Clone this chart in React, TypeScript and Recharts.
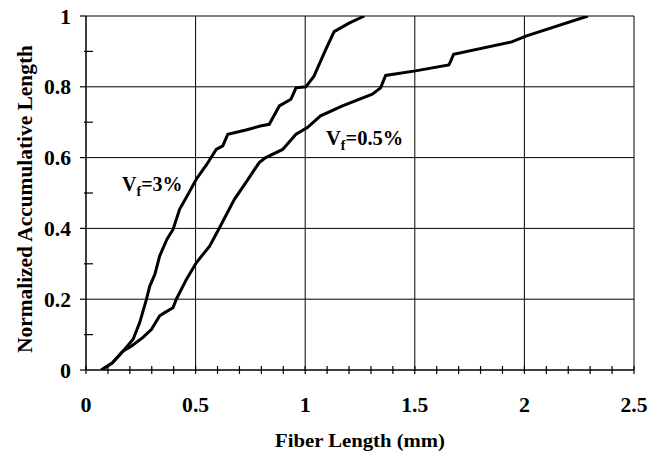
import React from "react"
import { LineChart, Line, XAxis, YAxis, CartesianGrid } from "recharts"

// Vf = 3% curve
const vf3X = [0.07, 0.12, 0.17, 0.215, 0.245, 0.276, 0.291, 0.314, 0.336, 0.37, 0.397, 0.427, 0.46, 0.503, 0.55, 0.594, 0.624, 0.647, 0.73, 0.8, 0.836, 0.882, 0.935, 0.958, 1.003, 1.04, 1.094, 1.132, 1.2, 1.27]
const vf3Y = [0, 0.02, 0.054, 0.087, 0.134, 0.2, 0.237, 0.27, 0.322, 0.37, 0.397, 0.454, 0.49, 0.539, 0.58, 0.623, 0.633, 0.666, 0.678, 0.69, 0.694, 0.746, 0.765, 0.797, 0.8, 0.83, 0.906, 0.956, 0.98, 1.0]

// Vf = 0.5% curve
const vf05X = [0.07, 0.12, 0.17, 0.208, 0.26, 0.299, 0.336, 0.359, 0.397, 0.412, 0.458, 0.503, 0.564, 0.609, 0.677, 0.73, 0.79, 0.82, 0.897, 0.958, 1.01, 1.07, 1.17, 1.306, 1.344, 1.367, 1.503, 1.655, 1.662, 1.677, 1.942, 2.01, 2.29]
const vf05Y = [0, 0.02, 0.054, 0.068, 0.092, 0.115, 0.153, 0.162, 0.176, 0.2, 0.256, 0.303, 0.35, 0.402, 0.482, 0.53, 0.586, 0.6, 0.623, 0.666, 0.685, 0.718, 0.746, 0.779, 0.797, 0.832, 0.845, 0.862, 0.87, 0.892, 0.927, 0.944, 1.0]

const xMajor = [0, 0.5, 1, 1.5, 2, 2.5]
const xMinor = [0.1, 0.2, 0.3, 0.4, 0.6, 0.7, 0.8, 0.9, 1.1, 1.2, 1.3, 1.4, 1.6, 1.7, 1.8, 1.9, 2.1, 2.2, 2.3, 2.4]
const yMajor = [0, 0.2, 0.4, 0.6, 0.8, 1]
const yMinor = [0.1, 0.3, 0.5, 0.7, 0.9]

const vf3Data = vf3X.map((x, i) => ({ x, y: vf3Y[i] }))
const vf05Data = vf05X.map((x, i) => ({ x, y: vf05Y[i] }))

const serif = "'Liberation Serif', 'Times New Roman', serif"

const isMajor = (list: number[], v: number) => list.some((m) => Math.abs(m - v) < 1e-6)

// scanned labels are a bit wider than plain Times bold
const labelWidth = (s: string) => (s.length === 1 ? 11 : 27)

function XTick(props: any) {
  const { x, y, payload } = props
  const v = payload.value
  const s = String(v)
  return (
    <g>
      <line x1={x} x2={x} y1={y - 4} y2={y + 4} stroke="#000" strokeWidth={1.2} />
      {isMajor(xMajor, v) && (
        <text
          x={x}
          y={y + 42}
          textAnchor="middle"
          fontFamily={serif}
          fontWeight="bold"
          fontSize={20}
          fill="#000"
          textLength={labelWidth(s)}
          lengthAdjust="spacingAndGlyphs"
        >
          {s}
        </text>
      )}
    </g>
  )
}

function YTick(props: any) {
  const { x, y, payload } = props
  const v = payload.value
  const s = String(v)
  const major = isMajor(yMajor, v)
  return (
    <g>
      {major ? (
        <line x1={x - 6} x2={x} y1={y} y2={y} stroke="#000" strokeWidth={1.2} />
      ) : (
        <line x1={x - 2} x2={x + 7} y1={y} y2={y} stroke="#000" strokeWidth={1.2} />
      )}
      {major && (
        <text
          x={x - 15}
          y={y + 7.5}
          textAnchor="end"
          fontFamily={serif}
          fontWeight="bold"
          fontSize={20}
          fill="#000"
          textLength={labelWidth(s)}
          lengthAdjust="spacingAndGlyphs"
        >
          {s}
        </text>
      )}
    </g>
  )
}

export default function App() {
  const xTicks = [...xMajor, ...xMinor].sort((a, b) => a - b)
  const yTicks = [...yMajor, ...yMinor].sort((a, b) => a - b)

  return (
    <div style={{ position: "absolute", left: 0, top: 0, width: 649, height: 453, background: "#fff" }}>
      <LineChart width={649} height={453} margin={{ top: 16, right: 15, bottom: 0, left: 0 }}>
        <CartesianGrid
          stroke="#000"
          strokeWidth={1}
          horizontalValues={[0.2, 0.4, 0.6, 0.8, 1]}
          verticalValues={[0.5, 1, 1.5, 2, 2.5]}
        />
        <XAxis
          type="number"
          dataKey="x"
          domain={[0, 2.5]}
          ticks={xTicks}
          interval={0}
          tickSize={0}
          tickMargin={0}
          tickLine={false}
          tick={XTick}
          height={83}
          axisLine={{ stroke: "#000", strokeWidth: 1.5 }}
          allowDataOverflow
        />
        <YAxis
          type="number"
          dataKey="y"
          domain={[0, 1]}
          ticks={yTicks}
          interval={0}
          tickSize={0}
          tickMargin={0}
          tickLine={false}
          tick={YTick}
          width={86}
          axisLine={{ stroke: "#000", strokeWidth: 1.5 }}
          allowDataOverflow
        />
        <Line data={vf3Data} dataKey="y" type="linear" stroke="#000" strokeWidth={3} dot={false} isAnimationActive={false} />
        <Line data={vf05Data} dataKey="y" type="linear" stroke="#000" strokeWidth={3} dot={false} isAnimationActive={false} />
      </LineChart>
      <svg width={649} height={453} style={{ position: "absolute", left: 0, top: 0, pointerEvents: "none" }}>
        <text
          x={360}
          y={447}
          textAnchor="middle"
          fontFamily={serif}
          fontWeight="bold"
          fontSize={18}
          textLength={170}
          lengthAdjust="spacingAndGlyphs"
        >
          Fiber Length (mm)
        </text>
        <text
          x={32}
          y={199}
          textAnchor="middle"
          fontFamily={serif}
          fontWeight="bold"
          fontSize={20}
          textLength={308}
          lengthAdjust="spacingAndGlyphs"
          transform="rotate(-90 32 199)"
        >
          Normalized Accumulative Length
        </text>
        <text x={122} y={191} fontFamily={serif} fontWeight="bold" fontSize={20}>
          V<tspan fontSize={14} dy={5}>f</tspan>
          <tspan dy={-5}>=3%</tspan>
        </text>
        <text x={326} y={145} fontFamily={serif} fontWeight="bold" fontSize={20.5}>
          V<tspan fontSize={14} dy={5}>f</tspan>
          <tspan dy={-5}>=0.5%</tspan>
        </text>
      </svg>
    </div>
  )
}
